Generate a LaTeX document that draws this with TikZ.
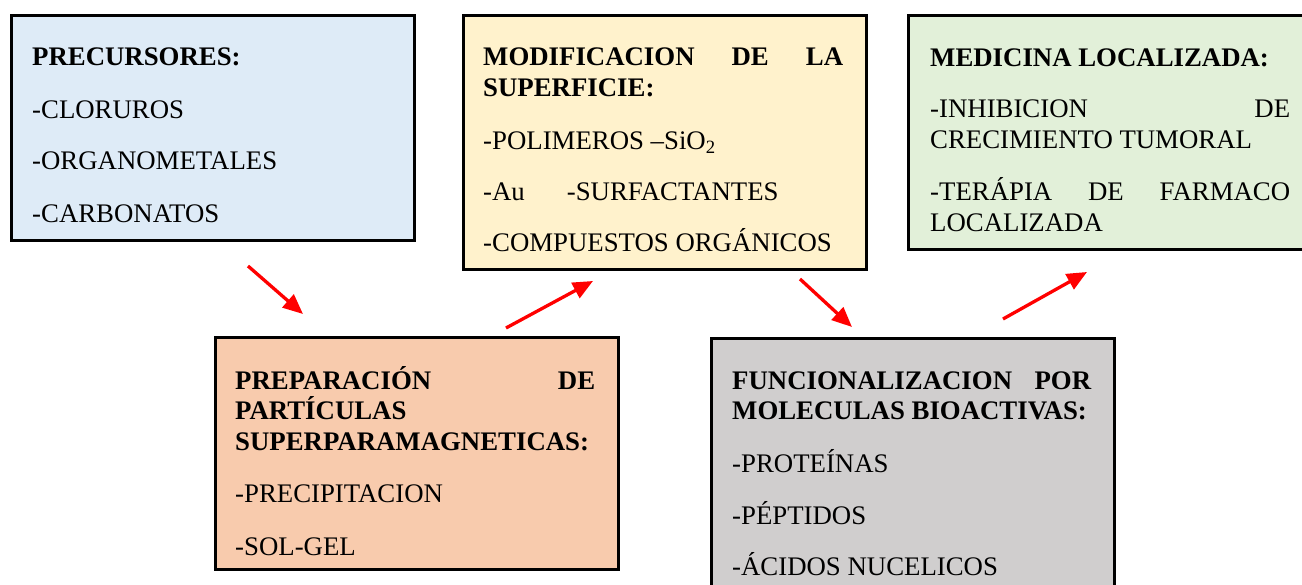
\documentclass[tikz,border=0pt]{standalone}
\usepackage{fontspec}
\setmainfont{Liberation Serif}
\usetikzlibrary{arrows.meta}
\definecolor{cblue}{HTML}{DEEBF7}
\definecolor{cyellow}{HTML}{FFF2CC}
\definecolor{cgreen}{HTML}{E2F0D9}
\definecolor{corange}{HTML}{F8CBAD}
\definecolor{cgray}{HTML}{D0CECE}
\definecolor{cred}{HTML}{FF0000}
\tikzset{
  box/.style={draw=black, line width=2.6pt, anchor=north west, inner sep=0pt},
  txt/.style={anchor=base west, inner sep=0pt, font=\fontsize{26.8}{31}\selectfont},
  redarrow/.style={draw=cred, line width=3.3pt, -{Triangle[length=20pt,width=17pt]}}
}
\newcommand{\jline}[1]{\hbox to 360pt{#1}}
\begin{document}
\begin{tikzpicture}[x=1pt,y=-1pt]
\useasboundingbox (0,0) rectangle (1302,585);
\clip (0,0) rectangle (1302,585);
% boxes
\node[box, fill=cblue, minimum width=403pt, minimum height=225pt] (pre) at (10,14) {};
\node[box, fill=cyellow, minimum width=403pt, minimum height=254pt] (mod) at (462,14) {};
\node[box, fill=cgreen, minimum width=410pt, minimum height=234pt] (med) at (907,14) {};
\node[box, fill=corange, minimum width=403pt, minimum height=232pt] (prep) at (214,336) {};
\node[box, fill=cgray, minimum width=403pt, minimum height=270pt] (fun) at (710,337) {};
% box 1 text
\node[txt] (pre1) at (32,66) {\textbf{PRECURSORES:}};
\node[txt] (pre2) at (32,119) {-CLORUROS};
\node[txt] (pre3) at (32,170) {-ORGANOMETALES};
\node[txt] (pre4) at (32,223) {-CARBONATOS};
% box 2 text
\node[txt] (mod1) at (483,66) {\bfseries\jline{MODIFICACION\hfill DE\hfill LA}};
\node[txt] (mod2) at (483,97) {\textbf{SUPERFICIE:}};
\node[txt] (mod3) at (483,150) {-POLIMEROS –SiO\textsubscript{2}};
\node[txt] (mod4) at (483,201) {-Au\hspace{42pt}-SURFACTANTES};
\node[txt] (mod5) at (483,252) {-COMPUESTOS ORGÁNICOS};
% box 3 text
\node[txt] (med1) at (930,67) {\textbf{MEDICINA LOCALIZADA:}};
\node[txt] (med2) at (930,118) {\jline{-INHIBICION\hfill DE}};
\node[txt] (med3) at (930,149) {CRECIMIENTO TUMORAL};
\node[txt] (med4) at (930,201) {\jline{-TERÁPIA\hfill DE\hfill FARMACO}};
\node[txt] (med5) at (930,232) {LOCALIZADA};
% box 4 text
\node[txt] (prep1) at (235,389) {\bfseries\jline{PREPARACIÓN\hfill DE}};
\node[txt] (prep2) at (235,419) {\textbf{PARTÍCULAS}};
\node[txt] (prep3) at (235,450) {\textbf{SUPERPARAMAGNETICAS:}};
\node[txt] (prep4) at (235,502) {-PRECIPITACION};
\node[txt] (prep5) at (235,555) {-SOL-GEL};
% box 5 text
\node[txt] (fun1) at (732,389) {\bfseries\hbox to 359pt{FUNCIONALIZACION\hfill POR}};
\node[txt] (fun2) at (732,419) {\textbf{MOLECULAS BIOACTIVAS:}};
\node[txt] (fun3) at (732,472) {-PROTEÍNAS};
\node[txt] (fun4) at (732,524) {-PÉPTIDOS};
\node[txt] (fun5) at (732,575) {-ÁCIDOS NUCELICOS};
% arrows
\coordinate (a1s) at (248,266); \coordinate (a1e) at (303,314);
\coordinate (a2s) at (506,328); \coordinate (a2e) at (593,281);
\coordinate (a3s) at (800,279); \coordinate (a3e) at (852,327);
\coordinate (a4s) at (1003,319); \coordinate (a4e) at (1087,272);
\draw[redarrow] (a1s) -- (a1e);
\draw[redarrow] (a2s) -- (a2e);
\draw[redarrow] (a3s) -- (a3e);
\draw[redarrow] (a4s) -- (a4e);
\end{tikzpicture}
\end{document}
